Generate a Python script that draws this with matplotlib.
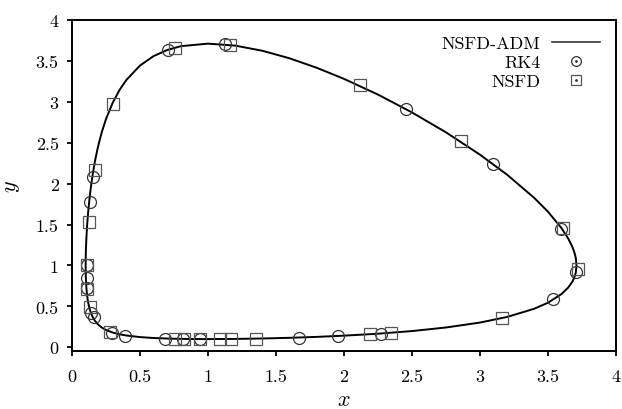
import matplotlib
matplotlib.use("Agg")
import matplotlib.pyplot as plt
from matplotlib.lines import Line2D

plt.rcParams["font.family"] = "cmr10"
plt.rcParams["mathtext.fontset"] = "cm"
plt.rcParams["axes.formatter.use_mathtext"] = True
plt.rcParams["font.size"] = 13

# NSFD-ADM orbit, traced around the closed curve
CURVE_X = [1.0, 1.2, 1.4, 1.6, 1.8, 2.0, 2.25, 2.5, 2.75, 3.0, 3.2, 3.4, 3.5, 3.6,
           3.65, 3.68, 3.69, 3.70, 3.706, 3.711,
           3.706, 3.70, 3.69, 3.68, 3.65, 3.6, 3.5, 3.4, 3.2, 3.0, 2.75, 2.5,
           2.25, 2.0, 1.8, 1.6, 1.4, 1.2, 1.0, 0.8, 0.7, 0.6, 0.5, 0.4, 0.35,
           0.3, 0.25, 0.22, 0.2, 0.185, 0.17, 0.16, 0.15, 0.14, 0.13, 0.12,
           0.115, 0.11, 0.105, 0.102, 0.1008, 0.1003,
           0.1008, 0.102, 0.105, 0.11, 0.115, 0.12, 0.13, 0.14, 0.15, 0.16, 0.17,
           0.185, 0.2, 0.22, 0.25, 0.3, 0.35, 0.4, 0.5, 0.6, 0.7, 0.8, 0.9, 1.0]
CURVE_Y = [0.1003, 0.1023, 0.1077, 0.116, 0.1274, 0.1421, 0.166, 0.1983, 0.242,
           0.302, 0.3706, 0.471, 0.544, 0.65, 0.73, 0.80, 0.835, 0.878, 0.915,
           1.0,
           1.09, 1.133, 1.186, 1.23, 1.329, 1.458, 1.659, 1.826, 2.11, 2.355,
           2.628, 2.871, 3.089, 3.281, 3.416, 3.532, 3.624, 3.687, 3.711, 3.68,
           3.633, 3.559, 3.443, 3.268, 3.146, 2.992, 2.79, 2.635, 2.512, 2.405,
           2.284, 2.1925, 2.09, 1.974, 1.839, 1.676, 1.579, 1.464, 1.315, 1.184,
           1.099, 1.0,
           0.907, 0.835, 0.74, 0.646, 0.5835, 0.536, 0.466, 0.4153, 0.377, 0.346,
           0.321, 0.29, 0.266, 0.2405, 0.212, 0.18, 0.159, 0.144, 0.125, 0.1135,
           0.107, 0.1029, 0.1009, 0.1003]

# RK4 points
RK4_X = [0.706, 1.127, 2.46, 3.10, 3.60, 3.71, 3.54, 2.27, 1.96, 1.67, 0.943,
         0.816, 0.686, 0.39, 0.294, 0.16, 0.142, 0.11, 0.11, 0.11, 0.135, 0.152]
RK4_Y = [3.63, 3.71, 2.91, 2.24, 1.45, 0.92, 0.59, 0.168, 0.139, 0.119, 0.101,
         0.103, 0.107, 0.14, 0.18, 0.366, 0.42, 0.72, 0.85, 1.00, 1.78, 2.08]

# NSFD points
NSFD_X = [0.76, 1.16, 2.12, 2.86, 3.61, 3.72, 3.16, 2.35, 2.19, 1.35, 1.17,
          1.09, 0.943, 0.826, 0.76, 0.277, 0.135, 0.11, 0.11, 0.122, 0.166, 0.30]
NSFD_Y = [3.66, 3.70, 3.20, 2.52, 1.46, 0.955, 0.357, 0.177, 0.16, 0.106, 0.102,
          0.101, 0.101, 0.102, 0.104, 0.19, 0.49, 0.71, 1.00, 1.53, 2.17, 2.97]

XTICKS = [0, 0.5, 1, 1.5, 2, 2.5, 3, 3.5, 4]
XTICK_LABELS = ["0", "0.5", "1", "1.5", "2", "2.5", "3", "3.5", "4"]
YTICKS = [0, 0.5, 1, 1.5, 2, 2.5, 3, 3.5, 4]
YTICK_LABELS = ["0", "0.5", "1", "1.5", "2", "2.5", "3", "3.5", "4"]

fig = plt.figure(figsize=(6.22, 4.10), dpi=100)
ax = fig.add_axes([0.1158, 0.1415, 0.8742, 0.8073])

ax.plot(CURVE_X, CURVE_Y, color="black", lw=1.4, zorder=3)
ax.plot(RK4_X, RK4_Y, ls="none", marker="o", ms=8.6, mfc="none",
        mec="#333333", mew=0.9, zorder=4)
ax.plot(NSFD_X, NSFD_Y, ls="none", marker="s", ms=8.6, mfc="none",
        mec="#555555", mew=0.9, zorder=4)

ax.set_xlim(0, 4)
ax.set_ylim(-0.045, 4)
ax.set_xticks(XTICKS, XTICK_LABELS)
ax.set_yticks(YTICKS, YTICK_LABELS)
ax.tick_params(direction="out", length=3.6, width=1.3, pad=6, top=False, right=False)
ax.tick_params(axis="x", pad=9)
for sp in ax.spines.values():
    sp.set_linewidth(1.4)
ax.set_xlabel("$x$", fontsize=16, labelpad=4)
ax.set_ylabel("$y$", fontsize=16, labelpad=10)

dot = Line2D([], [], ls="none", marker=".", ms=2, color="#333333")
h_line = Line2D([], [], color="#333333", lw=1.2)
h_rk4 = Line2D([], [], ls="none", marker="o", ms=7, mfc="none", mec="#333333", mew=0.9)
h_nsfd = Line2D([], [], ls="none", marker="s", ms=7, mfc="none", mec="#555555", mew=0.9)
ax.legend([h_line, (h_rk4, dot), (h_nsfd, dot)], ["NSFD-ADM", "RK4", "NSFD"],
          loc="upper right", frameon=False, markerfirst=False, numpoints=1,
          handlelength=2.7, handletextpad=0.6, labelspacing=0.2,
          borderaxespad=0.45, fontsize=13)

fig.savefig("out.png", dpi=100)
